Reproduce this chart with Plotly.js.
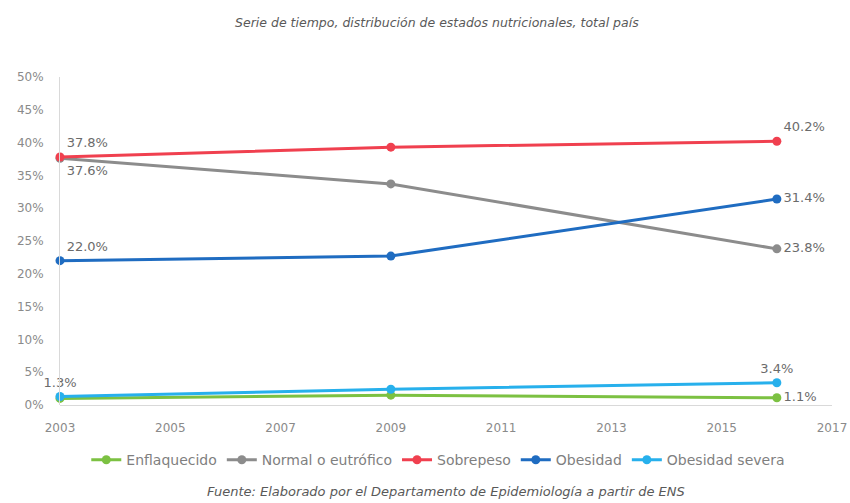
<!DOCTYPE html>
<html>
<head>
<meta charset="utf-8">
<script src="https://cdn.plot.ly/plotly-3.0.1.min.js"></script>
<style>html,body{margin:0;padding:0;background:#fff;}#chart{width:850px;height:503px;}</style>
</head>
<body>
<div id="chart"></div>
<script>
const years = [2003, 2009, 2016];
const seriesNames = ["Enflaquecido", "Normal o eutrófico", "Sobrepeso", "Obesidad", "Obesidad severa"];
const enflaquecido = [1.0, 1.5, 1.1];
const normal = [37.6, 33.7, 23.8];
const sobrepeso = [37.8, 39.3, 40.2];
const obesidad = [22.0, 22.7, 31.4];
const obesidadSevera = [1.3, 2.4, 3.4];
const labelsEnflaquecido = ["", "", "1.1%"];
const labelsNormal = ["37.6%", "", "23.8%"];
const labelsSobrepeso = ["37.8%", "", "40.2%"];
const labelsObesidad = ["22.0%", "", "31.4%"];
const labelsObesidadSevera = ["1.3%", "", "3.4%"];
const yTicks = [0, 5, 10, 15, 20, 25, 30, 35, 40, 45, 50];
const xTicks = [2003, 2005, 2007, 2009, 2011, 2013, 2015, 2017];

const colors = ["#7cc142", "#8c8c8c", "#f0404f", "#1f6cc1", "#27b0ec"];
const values = [enflaquecido, normal, sobrepeso, obesidad, obesidadSevera];
const labels = [labelsEnflaquecido, labelsNormal, labelsSobrepeso, labelsObesidad, labelsObesidadSevera];
const positions = [
  ["top right", "top right", "middle right"],
  ["bottom right", "top right", "middle right"],
  ["top right", "top right", "top right"],
  ["top right", "top right", "middle right"],
  ["top center", "top right", "top center"]
];
const FONT = "'DejaVu Sans', 'Liberation Sans', sans-serif";

const traces = seriesNames.map((n, i) => ({
  x: years, y: values[i], name: n, type: "scatter",
  mode: "lines+markers+text",
  text: labels[i], textposition: positions[i],
  textfont: {family: FONT, size: 13, color: "#6b6b6b"},
  line: {color: colors[i], width: 3},
  marker: {color: colors[i], size: 9},
  cliponaxis: false,
  hoverinfo: "x+y"
}));

const layout = {
  width: 850, height: 503,
  paper_bgcolor: "#ffffff", plot_bgcolor: "#ffffff",
  margin: {l: 60, r: 18, t: 77, b: 98},
  font: {family: FONT, color: "#7f7f7f", size: 12},
  title: {text: "<i>Serie de tiempo, distribución de estados nutricionales, total país</i>",
          x: 0.514, xanchor: "center", y: 0.956, yanchor: "middle",
          font: {size: 12.5, color: "#595959", family: FONT}},
  xaxis: {range: [2003, 2017], tickvals: xTicks, ticktext: xTicks.map(String),
          showgrid: false, zeroline: false, showline: false,
          ticks: "outside", ticklen: 12, tickcolor: "rgba(0,0,0,0)",
          tickfont: {size: 12, color: "#8a8a8a"}},
  yaxis: {range: [0, 50], tickvals: yTicks, ticktext: yTicks.map(v => v + "%"),
          showgrid: false, zeroline: true, zerolinecolor: "#d9d9d9", zerolinewidth: 1,
          showline: true, linecolor: "#d9d9d9", linewidth: 1,
          ticks: "outside", ticklen: 13, tickcolor: "rgba(0,0,0,0)",
          tickfont: {size: 12, color: "#8a8a8a"}},
  showlegend: true,
  legend: {orientation: "h", x: 0.49, xanchor: "center", y: -0.168, yanchor: "middle",
           font: {size: 14, color: "#7f7f7f", family: FONT}},
  annotations: [{
    text: "<i>Fuente: Elaborado por el Departamento de Epidemiología a partir de ENS</i>",
    xref: "paper", yref: "paper", x: 0.5, y: -0.265, xanchor: "center", yanchor: "middle",
    showarrow: false, font: {size: 13, color: "#595959", family: FONT}
  }]
};

Plotly.newPlot("chart", traces, layout, {displayModeBar: false, staticPlot: true});
</script>
</body>
</html>
